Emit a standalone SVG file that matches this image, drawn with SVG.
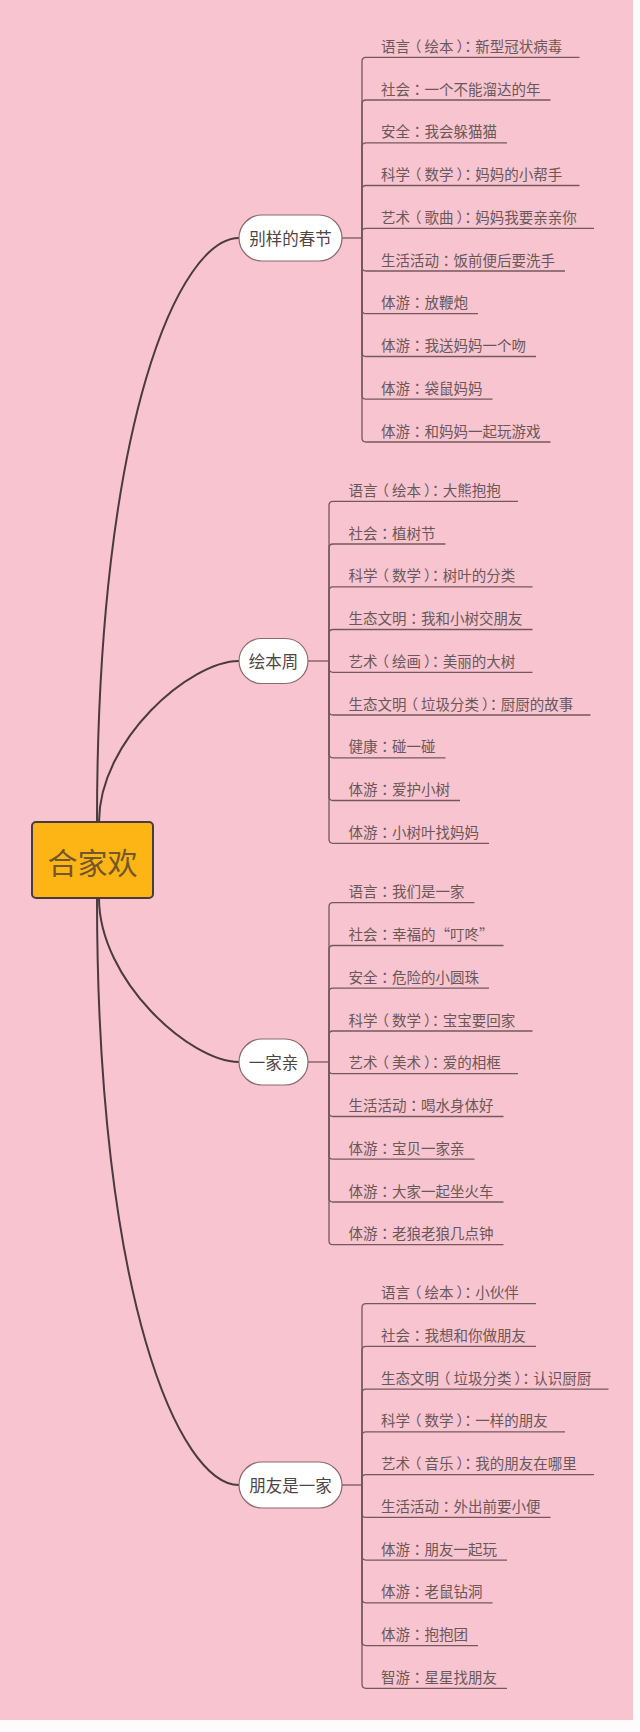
<svg xmlns="http://www.w3.org/2000/svg" width="640" height="1732" viewBox="0 0 640 1732">
<style>
.bg{fill:#F8C4D0}
.main{fill:#FDB515;stroke:#4a3c3c;stroke-width:2}
.mt{font-family:"Liberation Sans","Noto Sans CJK SC",sans-serif;font-size:30px;fill:#74562c;text-anchor:middle}
.pill{fill:#ffffff;stroke:#8a6a6c;stroke-width:1.2}
.pt{font-family:"Liberation Sans","Noto Sans CJK SC",sans-serif;font-size:16.5px;fill:#4f4445;text-anchor:middle}
.ct{font-family:"Liberation Sans","Noto Sans CJK SC",sans-serif;font-size:14.5px;fill:#6a5858}
.p{font-family:"Noto Sans CJK TC","Noto Sans CJK SC",sans-serif}
.big{fill:none;stroke:#4b3a3e;stroke-width:2}
.ln{fill:none;stroke:#74585c;stroke-width:1.3}
</style>
<rect x="0" y="0" width="640" height="1732" fill="#fdfbfc"/>
<rect class="bg" x="0" y="0" width="633" height="1720"/>
<g id="connectors">
<path class="big" d="M97,822 C97,420 180,238 239,238"/>
<path class="big" d="M99,822 C99,740 190,661 239,661"/>
<path class="big" d="M99,898 C99,980 190,1062 239,1062"/>
<path class="big" d="M97,898 C97,1300 180,1485 239,1485"/>
<g id="b1-lines">
<path class="ln" d="M342,238 L362,238"/>
<path class="ln" d="M362,238 L362,61.3 Q362,57.3 366,57.3 L579.5,57.3"/>
<path class="ln" d="M362,238 L362,104 Q362,100 366,100 L550.5,100"/>
<path class="ln" d="M362,238 L362,146.8 Q362,142.8 366,142.8 L507,142.8"/>
<path class="ln" d="M362,238 L362,189.5 Q362,185.5 366,185.5 L579.5,185.5"/>
<path class="ln" d="M362,238 L362,232.3 Q362,228.3 366,228.3 L594,228.3"/>
<path class="ln" d="M362,238 L362,267 Q362,271 366,271 L565,271"/>
<path class="ln" d="M362,238 L362,309.7 Q362,313.7 366,313.7 L478,313.7"/>
<path class="ln" d="M362,238 L362,352.5 Q362,356.5 366,356.5 L536,356.5"/>
<path class="ln" d="M362,238 L362,395.2 Q362,399.2 366,399.2 L492.5,399.2"/>
<path class="ln" d="M362,238 L362,438 Q362,442 366,442 L550.5,442"/>
</g>
<g id="b2-lines">
<path class="ln" d="M308,661 L329,661"/>
<path class="ln" d="M329,661 L329,505.3 Q329,501.3 333,501.3 L518,501.3"/>
<path class="ln" d="M329,661 L329,548 Q329,544 333,544 L445.5,544"/>
<path class="ln" d="M329,661 L329,590.8 Q329,586.8 333,586.8 L532.5,586.8"/>
<path class="ln" d="M329,661 L329,633.5 Q329,629.5 333,629.5 L532.5,629.5"/>
<path class="ln" d="M329,661 L329,668.3 Q329,672.3 333,672.3 L532.5,672.3"/>
<path class="ln" d="M329,661 L329,711 Q329,715 333,715 L590.5,715"/>
<path class="ln" d="M329,661 L329,753.8 Q329,757.8 333,757.8 L445.5,757.8"/>
<path class="ln" d="M329,661 L329,796.5 Q329,800.5 333,800.5 L460,800.5"/>
<path class="ln" d="M329,661 L329,839.3 Q329,843.3 333,843.3 L489,843.3"/>
</g>
<g id="b3-lines">
<path class="ln" d="M308,1062 L329,1062"/>
<path class="ln" d="M329,1062 L329,906.7 Q329,902.7 333,902.7 L474.5,902.7"/>
<path class="ln" d="M329,1062 L329,949.5 Q329,945.5 333,945.5 L503.5,945.5"/>
<path class="ln" d="M329,1062 L329,992.2 Q329,988.2 333,988.2 L489,988.2"/>
<path class="ln" d="M329,1062 L329,1035 Q329,1031 333,1031 L532.5,1031"/>
<path class="ln" d="M329,1062 L329,1069.7 Q329,1073.7 333,1073.7 L518,1073.7"/>
<path class="ln" d="M329,1062 L329,1112.5 Q329,1116.5 333,1116.5 L503.5,1116.5"/>
<path class="ln" d="M329,1062 L329,1155.2 Q329,1159.2 333,1159.2 L474.5,1159.2"/>
<path class="ln" d="M329,1062 L329,1198 Q329,1202 333,1202 L503.5,1202"/>
<path class="ln" d="M329,1062 L329,1240.7 Q329,1244.7 333,1244.7 L503.5,1244.7"/>
</g>
<g id="b4-lines">
<path class="ln" d="M342,1485 L362,1485"/>
<path class="ln" d="M362,1485 L362,1307.7 Q362,1303.7 366,1303.7 L536,1303.7"/>
<path class="ln" d="M362,1485 L362,1350.4 Q362,1346.4 366,1346.4 L536,1346.4"/>
<path class="ln" d="M362,1485 L362,1393.2 Q362,1389.2 366,1389.2 L608.5,1389.2"/>
<path class="ln" d="M362,1485 L362,1435.9 Q362,1431.9 366,1431.9 L565,1431.9"/>
<path class="ln" d="M362,1485 L362,1478.6 Q362,1474.6 366,1474.6 L594,1474.6"/>
<path class="ln" d="M362,1485 L362,1513.4 Q362,1517.4 366,1517.4 L550.5,1517.4"/>
<path class="ln" d="M362,1485 L362,1556.1 Q362,1560.1 366,1560.1 L507,1560.1"/>
<path class="ln" d="M362,1485 L362,1598.8 Q362,1602.8 366,1602.8 L492.5,1602.8"/>
<path class="ln" d="M362,1485 L362,1641.6 Q362,1645.6 366,1645.6 L478,1645.6"/>
<path class="ln" d="M362,1485 L362,1684.3 Q362,1688.3 366,1688.3 L507,1688.3"/>
</g>
</g>
<g id="root">
<rect class="main" x="32" y="822" width="121" height="76" rx="4"/>
<text class="mt" x="92.5" y="874">合家欢</text>
</g>
<g id="node-b1">
<rect class="pill" x="239" y="215" width="103" height="46" rx="23"/>
<text class="pt" x="290.5" y="244.5">别样的春节</text>
</g>
<g id="node-b2">
<rect class="pill" x="239" y="638.5" width="69" height="45" rx="22.5"/>
<text class="pt" x="273.5" y="667.5">绘本周</text>
</g>
<g id="node-b3">
<rect class="pill" x="239" y="1039" width="69" height="46" rx="23"/>
<text class="pt" x="273.5" y="1068.5">一家亲</text>
</g>
<g id="node-b4">
<rect class="pill" x="239" y="1462" width="103" height="46" rx="23"/>
<text class="pt" x="290.5" y="1491.5">朋友是一家</text>
</g>
<g id="b1-items">
<text class="ct" x="381" y="51.8">语言<tspan dx="-3">（</tspan><tspan dx="3">绘本</tspan><tspan dx="3">）</tspan><tspan class="p" dx="-3">：</tspan>新型冠状病毒</text>
<text class="ct" x="381" y="94.5">社会<tspan class="p">：</tspan>一个不能溜达的年</text>
<text class="ct" x="381" y="137.3">安全<tspan class="p">：</tspan>我会躲猫猫</text>
<text class="ct" x="381" y="180">科学<tspan dx="-3">（</tspan><tspan dx="3">数学</tspan><tspan dx="3">）</tspan><tspan class="p" dx="-3">：</tspan>妈妈的小帮手</text>
<text class="ct" x="381" y="222.8">艺术<tspan dx="-3">（</tspan><tspan dx="3">歌曲</tspan><tspan dx="3">）</tspan><tspan class="p" dx="-3">：</tspan>妈妈我要亲亲你</text>
<text class="ct" x="381" y="265.5">生活活动<tspan class="p">：</tspan>饭前便后要洗手</text>
<text class="ct" x="381" y="308.2">体游<tspan class="p">：</tspan>放鞭炮</text>
<text class="ct" x="381" y="351">体游<tspan class="p">：</tspan>我送妈妈一个吻</text>
<text class="ct" x="381" y="393.7">体游<tspan class="p">：</tspan>袋鼠妈妈</text>
<text class="ct" x="381" y="436.5">体游<tspan class="p">：</tspan>和妈妈一起玩游戏</text>
</g>
<g id="b2-items">
<text class="ct" x="348.5" y="495.8">语言<tspan dx="-3">（</tspan><tspan dx="3">绘本</tspan><tspan dx="3">）</tspan><tspan class="p" dx="-3">：</tspan>大熊抱抱</text>
<text class="ct" x="348.5" y="538.5">社会<tspan class="p">：</tspan>植树节</text>
<text class="ct" x="348.5" y="581.3">科学<tspan dx="-3">（</tspan><tspan dx="3">数学</tspan><tspan dx="3">）</tspan><tspan class="p" dx="-3">：</tspan>树叶的分类</text>
<text class="ct" x="348.5" y="624">生态文明<tspan class="p">：</tspan>我和小树交朋友</text>
<text class="ct" x="348.5" y="666.8">艺术<tspan dx="-3">（</tspan><tspan dx="3">绘画</tspan><tspan dx="3">）</tspan><tspan class="p" dx="-3">：</tspan>美丽的大树</text>
<text class="ct" x="348.5" y="709.5">生态文明<tspan dx="-3">（</tspan><tspan dx="3">垃圾分类</tspan><tspan dx="3">）</tspan><tspan class="p" dx="-3">：</tspan>厨厨的故事</text>
<text class="ct" x="348.5" y="752.3">健康<tspan class="p">：</tspan>碰一碰</text>
<text class="ct" x="348.5" y="795">体游<tspan class="p">：</tspan>爱护小树</text>
<text class="ct" x="348.5" y="837.8">体游<tspan class="p">：</tspan>小树叶找妈妈</text>
</g>
<g id="b3-items">
<text class="ct" x="348.5" y="897.2">语言<tspan class="p">：</tspan>我们是一家</text>
<text class="ct" x="348.5" y="940">社会<tspan class="p">：</tspan>幸福的<tspan class="p">“</tspan>叮咚<tspan class="p">”</tspan></text>
<text class="ct" x="348.5" y="982.7">安全<tspan class="p">：</tspan>危险的小圆珠</text>
<text class="ct" x="348.5" y="1025.5">科学<tspan dx="-3">（</tspan><tspan dx="3">数学</tspan><tspan dx="3">）</tspan><tspan class="p" dx="-3">：</tspan>宝宝要回家</text>
<text class="ct" x="348.5" y="1068.2">艺术<tspan dx="-3">（</tspan><tspan dx="3">美术</tspan><tspan dx="3">）</tspan><tspan class="p" dx="-3">：</tspan>爱的相框</text>
<text class="ct" x="348.5" y="1111">生活活动<tspan class="p">：</tspan>喝水身体好</text>
<text class="ct" x="348.5" y="1153.7">体游<tspan class="p">：</tspan>宝贝一家亲</text>
<text class="ct" x="348.5" y="1196.5">体游<tspan class="p">：</tspan>大家一起坐火车</text>
<text class="ct" x="348.5" y="1239.2">体游<tspan class="p">：</tspan>老狼老狼几点钟</text>
</g>
<g id="b4-items">
<text class="ct" x="381" y="1298.2">语言<tspan dx="-3">（</tspan><tspan dx="3">绘本</tspan><tspan dx="3">）</tspan><tspan class="p" dx="-3">：</tspan>小伙伴</text>
<text class="ct" x="381" y="1340.9">社会<tspan class="p">：</tspan>我想和你做朋友</text>
<text class="ct" x="381" y="1383.7">生态文明<tspan dx="-3">（</tspan><tspan dx="3">垃圾分类</tspan><tspan dx="3">）</tspan><tspan class="p" dx="-3">：</tspan>认识厨厨</text>
<text class="ct" x="381" y="1426.4">科学<tspan dx="-3">（</tspan><tspan dx="3">数学</tspan><tspan dx="3">）</tspan><tspan class="p" dx="-3">：</tspan>一样的朋友</text>
<text class="ct" x="381" y="1469.1">艺术<tspan dx="-3">（</tspan><tspan dx="3">音乐</tspan><tspan dx="3">）</tspan><tspan class="p" dx="-3">：</tspan>我的朋友在哪里</text>
<text class="ct" x="381" y="1511.9">生活活动<tspan class="p">：</tspan>外出前要小便</text>
<text class="ct" x="381" y="1554.6">体游<tspan class="p">：</tspan>朋友一起玩</text>
<text class="ct" x="381" y="1597.3">体游<tspan class="p">：</tspan>老鼠钻洞</text>
<text class="ct" x="381" y="1640.1">体游<tspan class="p">：</tspan>抱抱团</text>
<text class="ct" x="381" y="1682.8">智游<tspan class="p">：</tspan>星星找朋友</text>
</g>
</svg>
